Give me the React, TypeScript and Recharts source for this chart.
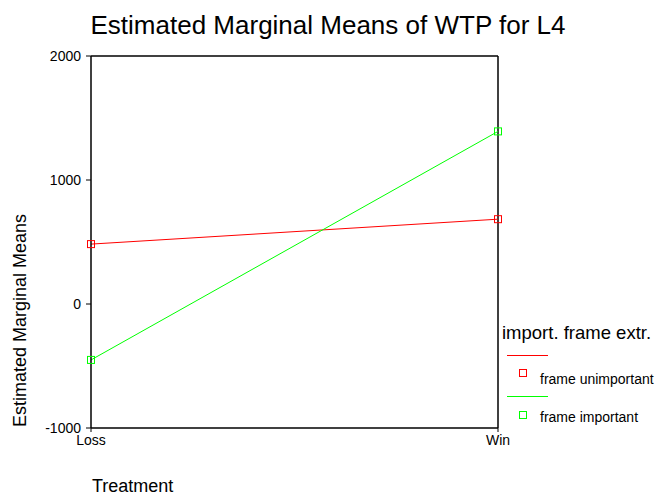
import { Line, LineChart, ReferenceLine, XAxis, YAxis } from "recharts";

const treatments = ["Loss", "Win"];
const frameUnimportant = [483, 684];
const frameImportant = [-451, 1392];
const yTicks = [-1000, 0, 1000, 2000];

const FONT = "'Liberation Sans', Arial, sans-serif";
const RED = "#ff0000";
const GREEN = "#00ff00";

const data = treatments.map((t, i) => ({
  treatment: t,
  unimportant: frameUnimportant[i],
  important: frameImportant[i],
}));

function SquareDot(props: any) {
  const { cx, cy, stroke } = props;
  if (cx == null || cy == null) return null;
  return (
    <rect
      x={cx - 3.5}
      y={cy - 3.5}
      width={7}
      height={7}
      fill="none"
      stroke={stroke}
      strokeWidth={1}
    />
  );
}

export default function App() {
  return (
    <div
      style={{
        position: "absolute",
        left: 0,
        top: 0,
        width: 656,
        height: 498,
        background: "#fff",
        fontFamily: FONT,
        color: "#000",
      }}
    >
      <LineChart
        width={656}
        height={498}
        data={data}
        margin={{ top: 56, right: 158, bottom: 40, left: 0 }}
      >
        <XAxis
          dataKey="treatment"
          padding={{ left: 0, right: 0 }}
          axisLine={{ stroke: "#000", strokeWidth: 1.5 }}
          tickLine={{ stroke: "#000" }}
          tickSize={4}
          tickMargin={3}
          tick={{ fill: "#000", fontSize: 14, fontFamily: FONT }}
          height={30}
        />
        <YAxis
          domain={[-1000, 2000]}
          ticks={yTicks}
          axisLine={{ stroke: "#000", strokeWidth: 1.5 }}
          tickLine={{ stroke: "#000" }}
          tickSize={5}
          tickMargin={5}
          tick={{ fill: "#000", fontSize: 14, fontFamily: FONT }}
          width={91}
        />
        <ReferenceLine y={2000} stroke="#000" strokeWidth={1.5} />
        <ReferenceLine x="Win" stroke="#000" strokeWidth={1.5} />
        <Line
          dataKey="unimportant"
          stroke={RED}
          strokeWidth={1}
          dot={<SquareDot />}
          activeDot={false}
          isAnimationActive={false}
        />
        <Line
          dataKey="important"
          stroke={GREEN}
          strokeWidth={1}
          dot={<SquareDot />}
          activeDot={false}
          isAnimationActive={false}
        />
      </LineChart>

      <div
        style={{
          position: "absolute",
          left: 0,
          width: 656,
          top: 10,
          textAlign: "center",
          fontSize: 26,
        }}
      >
        Estimated Marginal Means of WTP for L4
      </div>

      <div
        style={{
          position: "absolute",
          left: -130,
          top: 310,
          width: 300,
          textAlign: "center",
          fontSize: 18,
          transform: "rotate(-90deg)",
        }}
      >
        Estimated Marginal Means
      </div>

      <div style={{ position: "absolute", left: 92, top: 476, fontSize: 18 }}>
        Treatment
      </div>

      <div style={{ position: "absolute", left: 502, top: 322, fontSize: 18.5 }}>
        import. frame extr.
      </div>
      <div
        style={{
          position: "absolute",
          left: 507,
          top: 355,
          width: 41,
          height: 1,
          background: RED,
        }}
      />
      <div
        style={{
          position: "absolute",
          left: 519,
          top: 369,
          width: 6,
          height: 6,
          border: `1px solid ${RED}`,
        }}
      />
      <div style={{ position: "absolute", left: 540, top: 371, fontSize: 14 }}>
        frame unimportant
      </div>
      <div
        style={{
          position: "absolute",
          left: 507,
          top: 396,
          width: 41,
          height: 1,
          background: GREEN,
        }}
      />
      <div
        style={{
          position: "absolute",
          left: 519,
          top: 411,
          width: 6,
          height: 6,
          border: `1px solid ${GREEN}`,
        }}
      />
      <div style={{ position: "absolute", left: 540, top: 409, fontSize: 14 }}>
        frame important
      </div>
    </div>
  );
}
